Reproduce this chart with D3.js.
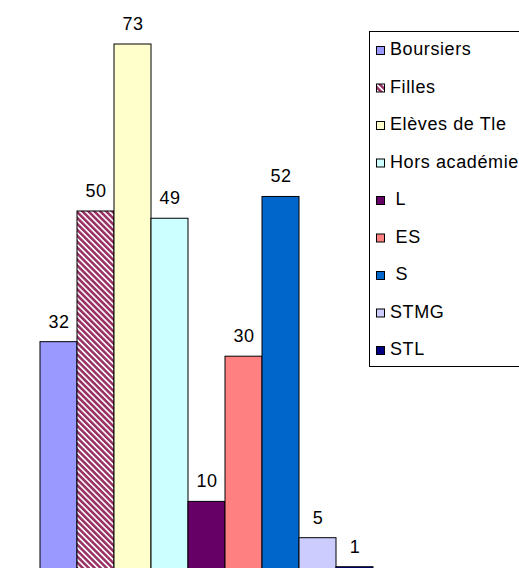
<!DOCTYPE html>
<html>
<head>
<meta charset="utf-8">
<script src="https://cdn.jsdelivr.net/npm/d3@7"></script>
<style>
  body { margin: 0; background: #fff; }
  text { font-family: Arial, "Liberation Sans", sans-serif; }
</style>
</head>
<body>
<script>
var width = 519,
    height = 568;

// data
var categories = ["Boursiers", "Filles", "Elèves de Tle", "Hors académie", " L", " ES", " S", "STMG", "STL"];
var values = [32, 50, 73, 49, 10, 30, 52, 5, 1];
var colors = ["#9999ff", "url(#hatch)", "#ffffcc", "#ccffff", "#660066", "#ff8080", "#0066cc", "#ccccff", "#000080"];

var svg = d3.select("body")
  .append("svg")
  .attr("width", width)
  .attr("height", height);

var hatch = svg.append("defs").append("pattern")
    .attr("id", "hatch")
    .attr("patternUnits", "userSpaceOnUse")
    .attr("width", 4.2)
    .attr("height", 4.2)
    .attr("patternTransform", "rotate(-45)");
hatch.append("rect")
    .attr("width", 4.2).attr("height", 4.2).attr("fill", "#fff");
hatch.append("rect")
    .attr("width", 2.6).attr("height", 4.2).attr("fill", "#993366");

var x = d3.scaleBand()
  .domain(categories)
  .range([40, 373])
  .padding(0);

var y = d3.scaleLinear()
  .domain([0, 73])
  .range([574, 44]);

svg.append("g")
  .selectAll("rect")
  .data(values)
  .enter().append("rect")
    .attr("x", function(d, i) { return x(categories[i]); })
    .attr("y", function(d) { return y(d); })
    .attr("width", x.bandwidth())
    .attr("height", function(d) { return y(0) - y(d); })
    .attr("fill", function(d, i) { return colors[i]; })
    .attr("stroke", "#000")
    .attr("stroke-width", 1);

svg.append("g")
  .selectAll("text")
  .data(values)
  .enter().append("text")
    .attr("x", function(d, i) { return x(categories[i]) + x.bandwidth() / 2 + 0.5; })
    .attr("y", function(d) { return y(d) - 14; })
    .attr("text-anchor", "middle")
    .attr("font-size", 18)
    .attr("letter-spacing", 0.6)
    .attr("fill", "#000")
    .text(function(d) { return d; });

// legend
var legend = svg.append("g");
legend.append("rect")
  .attr("x", 369.5)
  .attr("y", 31.5)
  .attr("width", 170)
  .attr("height", 335)
  .attr("fill", "#fff")
  .attr("stroke", "#000")
  .attr("stroke-width", 1);

var item = legend.selectAll("g")
  .data(categories)
  .enter().append("g")
    .attr("transform", function(d, i) { return "translate(0," + (55 + i * 37.5) + ")"; });

item.append("rect")
  .attr("x", 376.5)
  .attr("y", -8.5)
  .attr("width", 8)
  .attr("height", 8)
  .attr("fill", function(d, i) { return colors[i]; })
  .attr("stroke", "#000")
  .attr("stroke-width", 1);

item.append("text")
  .attr("x", 390)
  .attr("y", 0)
  .attr("font-size", 18)
  .attr("letter-spacing", 0.6)
  .style("white-space", "pre")
  .text(function(d) { return d; });
</script>
</body>
</html>
